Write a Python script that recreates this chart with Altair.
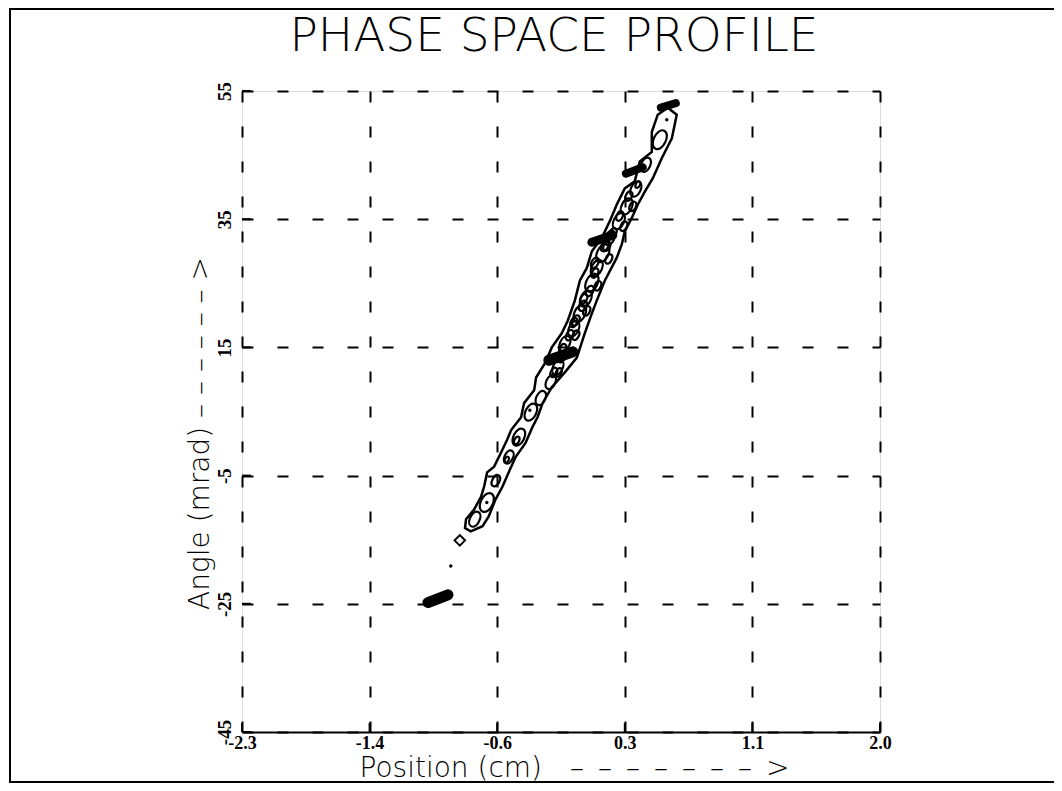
import altair as alt
import pandas as pd

title_text = "PHASE SPACE PROFILE"
x_title = "Position (cm)\u2002\u2002–\u2002–\u2002–\u2002–\u2002–\u2002–\u2002–\u2002>"
y_title = "Angle (mrad)  – – – – – – >"
x_ticks = [-2.3, -1.44, -0.58, 0.28, 1.14, 2.0]
y_ticks = [-45, -25, -5, 15, 35, 55]

# outer contour of the beam (closed loop)
outer_x = [0.570, 0.630, 0.597, 0.529, 0.469, 0.415, 0.368, 0.327, 0.280, 0.260, 0.226,
           0.145, 0.091, 0.058, 0.010, -0.043, -0.124,
           -0.212, -0.274, -0.308, -0.342, -0.389, -0.456, -0.503,
           -0.544, -0.591, -0.638, -0.679, -0.758,
           -0.797, -0.790, -0.736, -0.689, -0.668, -0.648, -0.601, -0.554, -0.513, -0.486,
           -0.419, -0.399, -0.331, -0.318, -0.259,
           -0.212, -0.145, -0.104, -0.057, -0.023, 0.024, 0.058, 0.125, 0.179, 0.226,
           0.280, 0.347, 0.381, 0.462, 0.462, 0.502, 0.570]
outer_y = [52.4, 51.3, 47.6, 44.5, 41.4, 39.3, 37.3, 35.2, 33.1, 31.1, 29.0,
           25.4, 22.3, 20.3, 17.2, 13.4, 11.1,
           8.8, 6.3, 4.1, 2.6, 0.1, -2.1, -4.5,
           -6.7, -8.7, -11.4, -12.9, -13.7,
           -13.2, -11.8, -10.3, -8.3, -6.7, -4.5, -3.6, -1.4, 0.6, 2.1,
           4.1, 6.3, 8.3, 10.3, 12.5,
           15.0, 17.2, 19.2, 22.3, 25.4, 27.4, 30.0, 32.1, 34.7, 37.3,
           39.8, 40.9, 44.0, 45.5, 48.6, 51.3, 52.4]

# inner contour loops along the band (length of loop in px)
loop_x = [0.516, 0.421, 0.354, 0.293, 0.240, 0.179, 0.132, 0.091, 0.058, 0.017, -0.023,
          -0.064, -0.124, -0.171, -0.219, -0.286, -0.353, -0.434, -0.502, -0.589, -0.650,
          -0.731,
          0.199, 0.145, 0.078, 0.044, -0.003, -0.050, -0.091, -0.145, -0.198, 0.368,
          -0.448, -0.515,
          0.307, 0.334, 0.246, 0.273, 0.159, 0.172, 0.078, 0.098, 0.004, 0.024, -0.064,
          -0.050, -0.138, -0.165]
loop_y = [47.4, 43.5, 39.7, 37.0, 34.7, 32.1, 29.7, 27.4, 25.1, 22.6, 20.3,
          17.9, 15.6, 11.9, 9.6, 7.1, 4.9, 1.0, -2.1, -5.8, -9.2,
          -11.8,
          32.8, 30.8, 28.2, 23.8, 21.5, 19.2, 16.9, 13.4, 11.1, 40.4,
          0.5, -2.5,
          38.6, 37.0, 35.5, 33.9, 30.8, 28.8, 26.6, 24.6, 22.6, 20.7, 18.9,
          16.9, 14.8, 11.1]
loop_len = [20, 15, 16, 17, 17, 15, 19, 17, 19, 17, 18,
            16, 16, 16, 15, 15, 18, 18, 14, 12, 20,
            16,
            11, 11, 11, 11, 11, 11, 11, 10, 10, 7,
            8, 6,
            10, 10, 10, 10, 10, 10, 10, 10, 10, 10, 10,
            10, 10, 9]

# dense (filled) regions
blob_id = [1, 1, 2, 2, 3, 3, 4, 4, 5, 5]
blob_x = [0.523, 0.624, 0.287, 0.401, 0.058, 0.199, -0.232, -0.070, -1.047, -0.912]
blob_y = [52.4, 53.1, 42.1, 43.1, 31.4, 32.5, 13.0, 14.3, -24.8, -23.6]
blob_w = [8, 8, 8, 8, 9, 9, 11, 11, 11, 11]

dot_x = [0.563, -0.650, -0.893, -0.360]
dot_y = [50.5, -9.2, -19.1, 5.2]

end_x = [-0.832]
end_y = [-15.1]

W, H = 638, 641

xscale = alt.Scale(domain=[-2.3, 2.0], nice=False, zero=False)
yscale = alt.Scale(domain=[-45, 55], nice=False, zero=False)

xaxis = alt.Axis(values=x_ticks,
                 labelExpr="datum.value < 0 ? '-' + format(-datum.value, '.1f') : format(datum.value, '.1f')",
                 grid=True, gridDash=[11, 24], gridColor="black",
                 gridWidth=2, gridOpacity=1, domain=True, domainColor="black", domainWidth=2,
                 ticks=False, labelFont="Liberation Serif", labelFontWeight="bold",
                 labelFontSize=18, labelColor="black", labelPadding=2, labelFlush=False,
                 title=x_title, titleFont="DejaVu Sans", titleFontWeight=200, titleFontSize=28,
                 titleColor="black", titleX=332, titleY=44, titleAlign="center",
                 titleBaseline="alphabetic")
yaxis = alt.Axis(values=y_ticks,
                 labelExpr="datum.value < 0 ? '-' + format(-datum.value, 'd') : format(datum.value, 'd')",
                 grid=True, gridDash=[11, 24], gridColor="black",
                 gridWidth=2, gridOpacity=1, domain=False, ticks=False,
                 labelFont="Liberation Serif", labelFontWeight="bold", labelFontSize=19,
                 labelColor="black", labelAngle=270, labelAlign="center",
                 labelBaseline="bottom", labelPadding=8, labelFlush=False,
                 title=y_title, titleFont="DejaVu Sans", titleFontWeight=200,
                 titleFontSize=28, titleColor="black", titleAngle=270, titleX=-42, titleY=342,
                 titleAlign="center", titleBaseline="middle")


def X(f):
    return alt.X(f, type="quantitative", scale=xscale, axis=xaxis)


def Y(f):
    return alt.Y(f, type="quantitative", scale=yscale, axis=yaxis)


outer_df = pd.DataFrame({"x": outer_x, "y": outer_y, "i": list(range(len(outer_x)))})
loop_df = pd.DataFrame({"x": loop_x, "y": loop_y, "L": loop_len})
blob_df = pd.DataFrame({"x": blob_x, "y": blob_y, "id": blob_id, "w": blob_w})
dot_df = pd.DataFrame({"x": dot_x, "y": dot_y})
end_df = pd.DataFrame({"x": end_x, "y": end_y})
xt_df = pd.DataFrame({"x": x_ticks})
yt_df = pd.DataFrame({"y": y_ticks})
one_df = pd.DataFrame({"a": [0]})

outer = alt.Chart(outer_df).mark_line(color="black", strokeWidth=2.5).encode(
    x=X("x"), y=Y("y"), order=alt.Order("i:Q"))

ellipse = "M0,-1 C0.8,-1 0.8,1 0,1 C-0.8,1 -0.8,-1 0,-1 Z"
loops = alt.Chart(loop_df).transform_calculate(s="datum.L * datum.L").mark_point(
    shape=ellipse, angle=26, filled=False, color="black", strokeWidth=2.2, opacity=1).encode(
    x=X("x"), y=Y("y"), size=alt.Size("s:Q", scale=None))

blobs = alt.Chart(blob_df).mark_line(color="black", strokeCap="round").encode(
    x=X("x"), y=Y("y"), detail="id:N", strokeWidth=alt.StrokeWidth("w:Q", scale=None))

dots = alt.Chart(dot_df).mark_point(filled=True, color="black", size=12, opacity=1).encode(
    x=X("x"), y=Y("y"))

end = alt.Chart(end_df).mark_point(shape="diamond", filled=False, color="black", size=110,
                                    strokeWidth=2, opacity=1).encode(x=X("x"), y=Y("y"))

xt = alt.Chart(xt_df).mark_rule(color="black", strokeWidth=2).encode(
    x=X("x"), y=alt.value(H), y2=alt.value(H - 9))
yt = alt.Chart(yt_df).mark_rule(color="black", strokeWidth=2).encode(
    y=Y("y"), x=alt.value(0), x2=alt.value(9))

frame = alt.Chart(one_df).mark_rect(fillOpacity=0, stroke="black", strokeWidth=2).encode(
    x=alt.value(-232), x2=alt.value(813), y=alt.value(-82), y2=alt.value(691))

title = alt.Chart(one_df).mark_text(text=title_text, font="DejaVu Sans", fontSize=47,
                                     fontWeight=200, color="black", align="center",
                                     baseline="middle").encode(
    x=alt.value(312), y=alt.value(-54))

chart = alt.layer(frame, title, outer, loops, blobs, dots, end, xt, yt).properties(
    width=W, height=H,
    autosize=alt.AutoSizeParams(type="none"),
    padding={"left": 234, "top": 83, "right": 174, "bottom": 51},
).configure_view(stroke=None).configure(background="white")

chart.save("out.html", embed_options={"renderer": "svg", "actions": False})
